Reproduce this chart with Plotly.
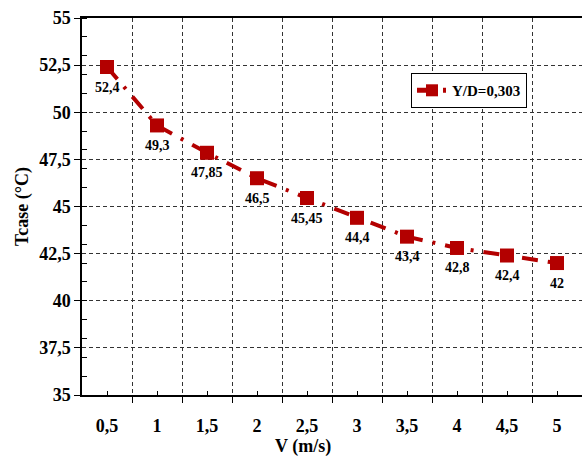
import plotly.graph_objects as go

# Case temperature vs air velocity
velocity = [0.5, 1, 1.5, 2, 2.5, 3, 3.5, 4, 4.5, 5]
t_case = [52.4, 49.3, 47.85, 46.5, 45.45, 44.4, 43.4, 42.8, 42.4, 42]
x_labels = ["0,5", "1", "1,5", "2", "2,5", "3", "3,5", "4", "4,5", "5"]
y_ticks = [35, 37.5, 40, 42.5, 45, 47.5, 50, 52.5, 55]
series_name = "Y/D=0,303"

RED = "#B30000"
FONT = "Liberation Serif"


def fr(v):
    s = f"{v:g}"
    return s.replace(".", ",")


fig = go.Figure()
fig.add_trace(go.Scatter(
    x=velocity, y=t_case, mode="lines+markers", name=f"<b>{series_name}</b>",
    line=dict(color=RED, width=4, dash="16px,10px,3px,10px"),
    marker=dict(symbol="square", size=14, color=RED),
))

for v, t in zip(velocity, t_case):
    fig.add_annotation(x=v, y=t, text=f"<b>{fr(t)}</b>", showarrow=False, yshift=-20,
                       font=dict(family=FONT, size=14, color="black"))

# x-axis title, set slightly left of the plot centre
fig.add_annotation(xref="paper", yref="paper", x=0.442, y=0, yshift=-51,
                   xanchor="center", yanchor="middle", showarrow=False,
                   text="<b>V (m/s)</b>", font=dict(family=FONT, size=18, color="black"))

fig.update_layout(
    width=582, height=456,
    margin=dict(l=82, r=0, t=18, b=61),
    paper_bgcolor="white", plot_bgcolor="white",
    font=dict(family=FONT, color="black"),
    showlegend=True,
    legend=dict(x=0.658, y=0.854, xanchor="left", yanchor="top",
                bgcolor="white", bordercolor="black", borderwidth=1,
                itemsizing="constant",
                font=dict(family=FONT, size=15, color="black")),
)

fig.update_xaxes(
    range=[0.25, 5.25],
    tickmode="array", tickvals=velocity, ticktext=[f"<b>{s}</b>" for s in x_labels],
    ticks="inside", ticklen=4, tickcolor="black", showgrid=False,
    ticklabelstandoff=14,
    tickfont=dict(family=FONT, size=18, color="black"),
    showline=True, linecolor="black", linewidth=1.5, mirror=True,
    zeroline=False,
    minor=dict(tick0=0.25, dtick=0.5, ticks="outside", ticklen=6, tickcolor="black",
               showgrid=True, gridcolor="#333333", griddash="4px,3px", gridwidth=1),
)

fig.update_yaxes(
    range=[35, 55],
    tickmode="array", tickvals=y_ticks, ticktext=[f"<b>{fr(v)}</b>" for v in y_ticks],
    ticks="outside", ticklen=6, tickcolor="black",
    showgrid=True, gridcolor="#333333", griddash="4px,3px", gridwidth=1,
    tickfont=dict(family=FONT, size=18, color="black"),
    showline=True, linecolor="black", linewidth=1.5,
    zeroline=False,
    minor=dict(tick0=35, dtick=1, ticks="inside", ticklen=5, tickcolor="black",
               showgrid=False),
    title=dict(text="<b>Tcase (°C)</b>", font=dict(family=FONT, size=18, color="black"),
               standoff=6),
)

fig.write_html("out.html")
